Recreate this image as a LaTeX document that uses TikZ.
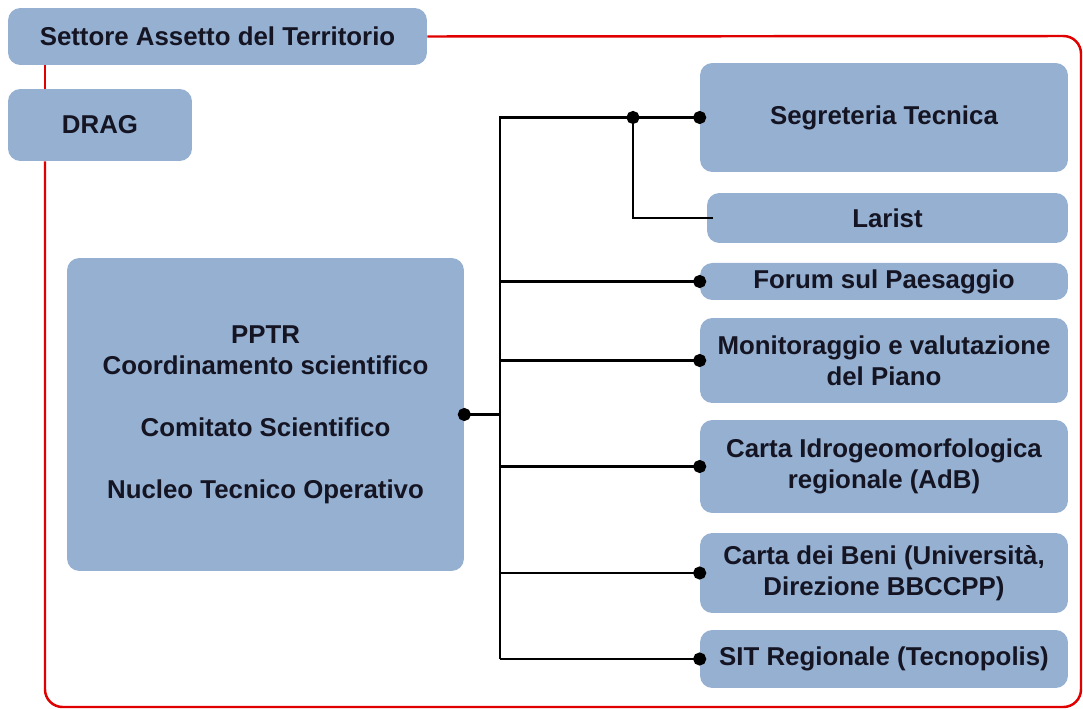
\documentclass[tikz,border=0pt]{standalone}
\usepackage{fontspec}
\setmainfont{Liberation Sans}
\usepackage{tikz}
\usetikzlibrary{arrows.meta}

\definecolor{boxfill}{RGB}{149,176,209}
\definecolor{boxtext}{RGB}{20,20,35}
\definecolor{framered}{RGB}{225,0,0}

\begin{document}
\begin{tikzpicture}[
  x=0.02cm, y=-0.02cm,
  box/.style={fill=boxfill, rounded corners=7pt, inner sep=0pt, align=center, text=boxtext,
    font=\bfseries\fontsize{14.7}{17.6}\selectfont},
  rbox/.style={box, minimum width=7.36cm},
  wire/.style={line width=1.7pt, black},
  dotend/.style={-{Circle[length=7.4pt]}, shorten >=-3.7pt},
  dotstart/.style={{Circle[length=7.4pt]}-, shorten <=-3.7pt},
  frame/.style={line width=1.4pt, framered, rounded corners=10pt}
]
\useasboundingbox (0,0) rectangle (1083,709);

% Left boxes
\node[box, minimum width=8.38cm, minimum height=1.14cm] (sat) at (217.5,36.5) {Settore Assetto del Territorio};
\node[box, minimum width=3.68cm, minimum height=1.44cm] (drag) at (100,125) {DRAG};
\node[box, minimum width=7.94cm, minimum height=6.26cm] (pptr) at (265.5,414.5) {%
  PPTR\\Coordinamento scientifico\\[17.6pt]
  Comitato Scientifico\\[17.6pt]
  Nucleo Tecnico Operativo};

% Right boxes
\node[rbox, minimum height=2.18cm] (seg) at (884,117.5) {Segreteria Tecnica};
\node[box, minimum width=7.22cm, minimum height=1.0cm] (larist) at (887.5,218) {Larist};
\node[rbox, minimum height=0.74cm] (forum) at (884,281.5) {Forum sul Paesaggio};
\node[rbox, minimum height=1.7cm] (moni) at (884,360.5) {Monitoraggio e valutazione\\del Piano};
\node[rbox, minimum height=1.86cm] (idro) at (884,466.5) {Carta Idrogeomorfologica\\regionale (AdB)};
\node[rbox, minimum height=1.6cm] (beni) at (884,573) {Carta dei Beni (Università,\\Direzione BBCCPP)};
\node[rbox, minimum height=1.16cm] (sit) at (884,659) {SIT Regionale (Tecnopolis)};

% Red frame
\coordinate (ne) at (1081,36);
\coordinate (sw) at (45,707);
\draw[frame] (sat.east) -- (ne) -- (ne |- sw) -- (sw) -- (sw |- drag.south);
\draw[frame] (sw |- sat.south) -- (sw |- drag.north);

% Connectors
\coordinate (trunk) at (500,117.5);
\coordinate (fork) at (633,117.5);
\draw[wire, dotend] (trunk |- sit.west) -- (trunk) -- (seg.west);
\foreach \n in {forum,moni,idro,beni,sit}
  \draw[wire, dotend] (trunk |- \n.west) -- (\n.west);
\draw[wire, dotend, dotstart] (fork) |- (larist.west);
\draw[wire, dotstart] (pptr.east) -- (pptr.east -| trunk);

\end{tikzpicture}
\end{document}
